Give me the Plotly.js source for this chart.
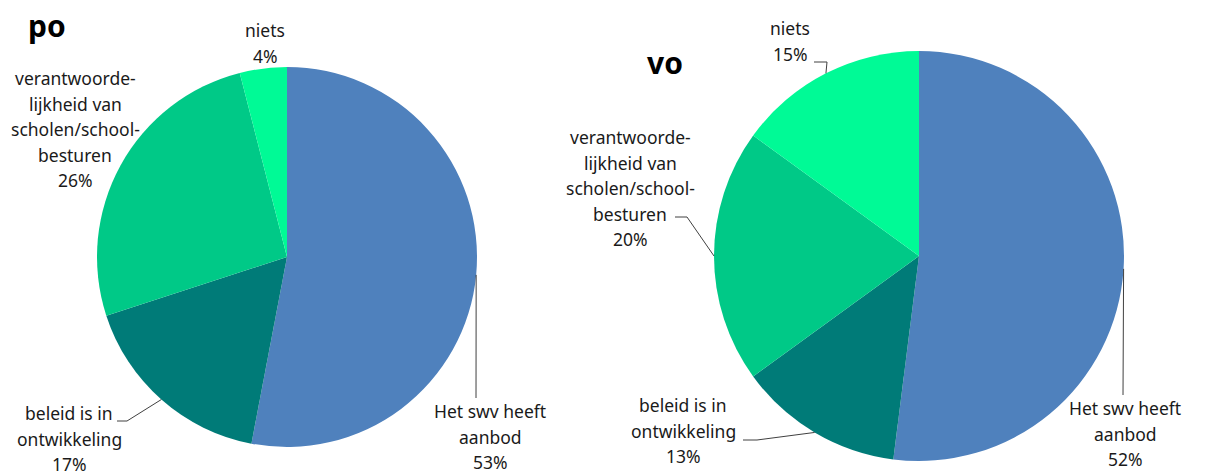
<!DOCTYPE html>
<html><head><meta charset="utf-8">
<script src="https://cdn.plot.ly/plotly-3.0.1.min.js"></script>
<style>html,body{margin:0;padding:0;background:#fff}#c{width:1219px;height:473px}</style>
</head><body><div id="c"></div>
<script>
// ---- data ----
const categories = ["Het swv heeft aanbod", "beleid is in ontwikkeling", "verantwoordelijkheid van scholen/schoolbesturen", "niets"];
const labelLines = [["Het swv heeft", "aanbod"], ["beleid is in", "ontwikkeling"], ["verantwoorde-", "lijkheid van", "scholen/school-", "besturen"], ["niets"]];
const poValues = [53, 17, 26, 4];
const voValues = [52, 13, 20, 15];
const colors = ["#4F81BD", "#007B78", "#00C987", "#00FA96"];

// ---- layout helpers ----
const W = 1219, H = 473;
const px = x => x / W, py = y => 1 - y / H;
const FONT = "Noto Sans, Open Sans, sans-serif";
const LH = 25.5;

const pies = [
  {name: "po", values: poValues, cx: 287, cy: 257, r: 190, title: [47, 26],
   labels: [ {x: 490, y: 411}, {x: 69, y: 413}, {x: 75, y: 78}, {x: 265, y: 30} ],
   leaders: [ {pts: [[476, 398]]}, {pts: [[117, 421], [127, 421]]}, null, null ] },
  {name: "vo", values: voValues, cx: 919, cy: 256, r: 205, title: [665, 63],
   labels: [ {x: 1125, y: 408}, {x: 683, y: 405}, {x: 630, y: 137}, {x: 790, y: 28} ],
   leaders: [ {pts: [[1123, 395]]}, {pts: [[743, 440], [757, 440]]}, {pts: [[675, 217], [687, 217]]}, {pts: [[814, 62], [827, 62]]} ] }
];

const traces = [], annotations = [], shapes = [];
pies.forEach(p => {
  traces.push({
    type: "pie", values: p.values, labels: categories, sort: false, direction: "clockwise", rotation: 0,
    marker: {colors: colors, line: {width: 0}}, textinfo: "none", hoverinfo: "label+percent",
    domain: {x: [px(p.cx - p.r), px(p.cx + p.r)], y: [py(p.cy + p.r), py(p.cy - p.r)]}
  });
  annotations.push({xref: "paper", yref: "paper", x: px(p.title[0]), y: py(p.title[1]), text: "<b>" + p.name + "</b>",
    showarrow: false, xanchor: "center", yanchor: "middle", font: {family: FONT, size: 30, color: "#000"}});
  const total = p.values.reduce((a, b) => a + b, 0);
  let cum = 0;
  p.values.forEach((v, i) => {
    const mid = (cum + v / 2) / total * 2 * Math.PI; cum += v;
    const ex = p.cx + p.r * Math.sin(mid), ey = p.cy - p.r * Math.cos(mid);
    const lines = labelLines[i].concat([Math.round(v / total * 100) + "%"]);
    lines.forEach((t, j) => annotations.push({xref: "paper", yref: "paper", x: px(p.labels[i].x), y: py(p.labels[i].y + j * LH),
      text: t, showarrow: false, xanchor: "center", yanchor: "middle", font: {family: FONT, size: 17.5, color: "#1a1a1a"}}));
    const ld = p.leaders[i];
    if (ld) {
      const pts = ld.pts.concat([[ex, ey]]);
      const path = pts.map((q, k) => (k ? "L" : "M") + px(q[0]) + "," + py(q[1])).join(" ");
      shapes.push({type: "path", xref: "paper", yref: "paper", path: path, line: {color: "#404040", width: 1}});
    }
  });
});

Plotly.newPlot("c", traces, {
  width: W, height: H, margin: {l: 0, r: 0, t: 0, b: 0}, showlegend: false,
  paper_bgcolor: "#fff", annotations: annotations, shapes: shapes
}, {displayModeBar: false, staticPlot: true});
</script></body></html>
